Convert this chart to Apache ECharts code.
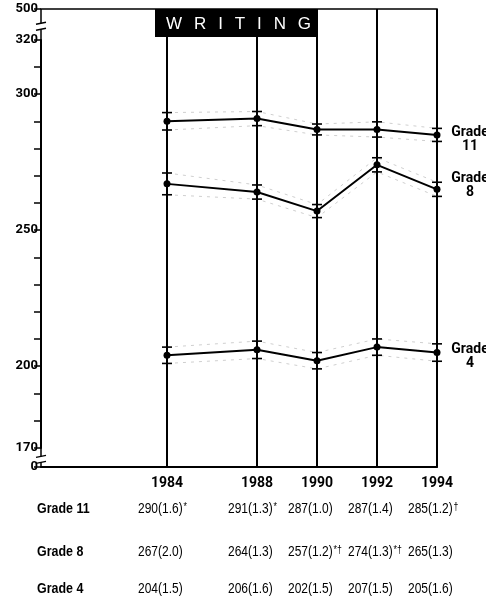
<!DOCTYPE html>
<html>
<head>
<meta charset="utf-8">
<script src="https://cdn.jsdelivr.net/npm/echarts@6/dist/echarts.min.js"></script>
<style>
  html, body { margin: 0; padding: 0; background: #fff; }
  #chart { width: 486px; height: 598px; }
</style>
</head>
<body>
<div id="chart"></div>
<script>
// assessment years and average writing scores (standard errors in brackets)
const years = [1984, 1988, 1990, 1992, 1994];
const grade11 = [290, 291, 287, 287, 285];
const grade11SE = [1.6, 1.3, 1.0, 1.4, 1.2];
const grade11Note = ['*', '*', '', '', '†'];
const grade8 = [267, 264, 257, 274, 265];
const grade8SE = [2.0, 1.3, 1.2, 1.3, 1.3];
const grade8Note = ['', '', '*†', '*†', ''];
const grade4 = [204, 206, 202, 207, 205];
const grade4SE = [1.5, 1.6, 1.5, 1.5, 1.6];
const grade4Note = ['', '', '', '', ''];
const yTickLabels = [0, 170, 200, 250, 300, 320, 500];

const FONT = "Roboto, 'Liberation Sans', sans-serif";
const TABLE_FONT = "'Liberation Sans', sans-serif";

const grades = [
  { name: 'Grade 11', end: 'Grade\n11', values: grade11, se: grade11SE, note: grade11Note, dy: 5, row: 509 },
  { name: 'Grade 8', end: 'Grade\n8', values: grade8, se: grade8SE, note: grade8Note, dy: -4, row: 552 },
  { name: 'Grade 4', end: 'Grade\n4', values: grade4, se: grade4SE, note: grade4Note, dy: 4, row: 589 }
];

const chart = echarts.init(document.getElementById('chart'));

const series = [];
grades.forEach((g, gi) => {
  const upper = years.map((y, i) => [y, g.values[i] + 2 * g.se[i]]);
  const lower = years.map((y, i) => [y, g.values[i] - 2 * g.se[i]]);
  [upper, lower].forEach(d => {
    series.push({
      type: 'line',
      data: d,
      showSymbol: false,
      silent: true,
      lineStyle: { color: '#cfcfcf', width: 1, type: [3, 5] },
      z: 1
    });
  });
  series.push({
    type: 'custom',
    silent: true,
    data: years.map((y, i) => [y, lower[i][1], upper[i][1]]),
    renderItem: (params, api) => {
      const lo = api.coord([api.value(0), api.value(1)]);
      const hi = api.coord([api.value(0), api.value(2)]);
      const st = { stroke: '#000', lineWidth: 1.6 };
      return {
        type: 'group',
        children: [
          { type: 'line', shape: { x1: lo[0] - 5, y1: lo[1], x2: lo[0] + 5, y2: lo[1] }, style: st },
          { type: 'line', shape: { x1: hi[0] - 5, y1: hi[1], x2: hi[0] + 5, y2: hi[1] }, style: st }
        ]
      };
    },
    z: 3
  });
  const main = {
    name: g.name,
    type: 'line',
    data: years.map((y, i) => [y, g.values[i]]),
    symbol: 'circle',
    symbolSize: 7,
    itemStyle: { color: '#000' },
    lineStyle: { color: '#000', width: 2 },
    z: 4,
    endLabel: {
      show: true,
      formatter: g.end,
      align: 'center',
      distance: 0,
      offset: [33, g.dy],
      fontFamily: FONT,
      fontWeight: 'bold',
      fontSize: 14,
      lineHeight: 14,
      color: '#000'
    }
  };
  if (gi === 0) {
    main.markLine = {
      silent: true,
      symbol: ['none', 'none'],
      label: { show: false },
      lineStyle: { color: '#000', width: 2, type: 'solid' },
      data: years.map(y => ({ xAxis: y }))
    };
  }
  series.push(main);
});

chart.setOption({
  animation: false,
  grid: { left: 41, right: 49, top: 9, bottom: 131, show: true, borderColor: '#000', borderWidth: 1.5 },
  xAxis: {
    type: 'value',
    min: 1979.8,
    max: 1994,
    breaks: [{ start: 1985, end: 1986, gap: 0 }],
    breakArea: { show: false },
    splitLine: { show: false },
    axisTick: { show: false },
    axisLine: { lineStyle: { color: '#000', width: 2 } },
    axisLabel: {
      customValues: years,
      formatter: v => String(v),
      color: '#000',
      fontFamily: FONT,
      fontWeight: 'bold',
      fontSize: 14,
      margin: 9
    }
  },
  yAxis: {
    type: 'value',
    min: 0,
    max: 500,
    interval: 10,
    breaks: [
      { start: 0, end: 170, gap: '4.2%' },
      { start: 320, end: 500, gap: '6.7%' }
    ],
    breakArea: { show: false },
    splitLine: { show: false },
    axisLine: { show: true, lineStyle: { color: '#000', width: 2 } },
    axisTick: { show: true, length: 7, lineStyle: { color: '#000', width: 1.5 } },
    axisLabel: {
      formatter: v => (yTickLabels.includes(v) ? String(v) : ''),
      color: '#000',
      fontFamily: FONT,
      fontWeight: 'bold',
      fontSize: 13,
      margin: 3
    }
  },
  series: series
});

// decorations placed from the axis scales
const px = (x, y) => chart.convertToPixel({ gridIndex: 0 }, [x, y]);
const graphic = [];

// break marks on the value axis
[[0, 170], [320, 500]].forEach(([a, b]) => {
  const mid = (px(1984, a)[1] + px(1984, b)[1]) / 2 + 2;
  const x0 = px(1979.8, a)[0];
  graphic.push({ type: 'rect', z: 100, shape: { x: x0 - 3, y: mid - 3, width: 6, height: 6 }, style: { fill: '#fff' } });
  [mid - 3, mid + 3].forEach(yy => {
    graphic.push({ type: 'line', z: 101, shape: { x1: x0 - 5, y1: yy + 1, x2: x0 + 5, y2: yy - 1 }, style: { stroke: '#000', lineWidth: 1.5 } });
  });
});

// subject banner
const bannerRight = px(1990, 500)[0];
const bannerTop = px(1990, 500)[1];
graphic.push({ type: 'rect', z: 100, shape: { x: 155, y: bannerTop, width: bannerRight - 155, height: 28 }, style: { fill: '#000' } });
graphic.push({
  type: 'text', z: 101, x: 166, y: bannerTop + 15,
  style: {
    text: 'WRITING'.split('').join('\u2002\u2009'),
    fill: '#fff',
    font: "17px 'Liberation Sans', sans-serif",
    verticalAlign: 'middle'
  }
});

// data table under the chart (condensed type)
grades.forEach(g => {
  graphic.push({
    type: 'text', x: 37, y: g.row, scaleX: 0.83,
    style: { text: g.name, fill: '#000', font: "bold 15px " + TABLE_FONT, verticalAlign: 'middle' }
  });
  years.forEach((y, i) => {
    const x = px(y, 200)[0] - 29;
    const note = g.note[i] ? '{s|' + g.note[i] + '}' : '';
    graphic.push({
      type: 'text', x: x, y: g.row, scaleX: 0.8,
      style: {
        text: '{v|' + g.values[i] + '(' + g.se[i].toFixed(1) + ')}' + note,
        rich: {
          v: { fontFamily: TABLE_FONT, fontSize: 15, fill: '#000' },
          s: { fontFamily: TABLE_FONT, fontSize: 11, fill: '#000', padding: [0, 0, 5, 1] }
        },
        fill: '#000',
        verticalAlign: 'middle'
      }
    });
  });
});

chart.setOption({ graphic: graphic });
</script>
</body>
</html>
